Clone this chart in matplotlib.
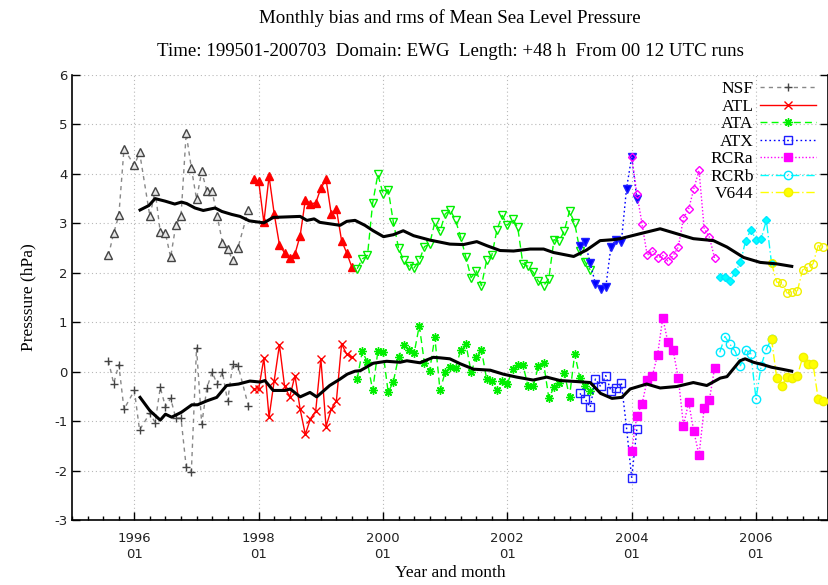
import numpy as np
import matplotlib
matplotlib.use("Agg")
import matplotlib.pyplot as plt
from matplotlib.lines import Line2D

plt.rcParams["axes.unicode_minus"] = False

# month index counted from 1995-01 (0 = Jan 1995)
nsf_months = [7, 8, 9, 10, 12, 13] + list(range(15, 33)) + [34]
nsf_rms = [2.35, 2.80, 3.16, 4.51, 4.17, 4.44, 3.14, 3.66, 2.82, 2.80, 2.31, 2.96, 3.14,
           4.82, 4.12, 3.49, 4.05, 3.65, 3.65, 3.15, 2.61, 2.48, 2.25, 2.51, 3.26]
nsf_bias = [0.22, -0.24, 0.14, -0.76, -0.38, -1.18, -0.84, -1.03, -0.32, -0.71, -0.54, -0.94, -0.94,
            -1.92, -2.02, 0.48, -1.06, -0.33, -0.01, -0.25, -0.01, -0.60, 0.16, 0.12, -0.69]

atl_start = 35
atl_rms = [3.90, 3.85, 3.02, 3.95, 3.19, 2.57, 2.40, 2.30, 2.38, 2.75, 3.47, 3.40, 3.41, 3.71,
           3.89, 3.19, 3.29, 2.65, 2.40, 2.11]
atl_bias = [-0.35, -0.35, 0.27, -0.92, -0.18, 0.54, -0.30, -0.51, -0.08, -0.76, -1.27, -0.95, -0.80,
            0.26, -1.11, -0.76, -0.59, 0.56, 0.35, 0.29]

ata_start = 55
ata_rms = [2.08, 2.28, 2.35, 3.41, 3.99, 3.60, 3.68, 3.02, 2.50, 2.25, 2.13, 2.10, 2.25, 2.53, 2.58,
           3.02, 2.84, 3.19, 3.27, 3.06, 2.72, 2.31, 1.90, 2.04, 1.74, 2.25, 2.35, 2.87, 3.16, 2.96,
           3.09, 2.92, 2.18, 2.13, 2.01, 1.83, 1.74, 1.88, 2.67, 2.64, 2.85, 3.25, 3.00, 2.45, 2.22, 2.06]
ata_bias = [-0.15, 0.41, 0.19, -0.38, 0.41, 0.39, -0.42, -0.20, 0.30, 0.53, 0.44, 0.37, 0.93, 0.17,
            0.02, 0.70, -0.38, -0.01, 0.09, 0.07, 0.44, 0.56, -0.01, 0.29, 0.44, -0.15, -0.18, -0.38,
            -0.18, -0.25, 0.05, 0.14, 0.14, -0.30, -0.30, 0.12, 0.17, -0.53, -0.32, -0.22, -0.03,
            -0.51, 0.36, -0.12, -0.30, -0.40]

atx_start = 98
atx_rms = [2.55, 2.62, 2.19, 1.78, 1.68, 1.71, 2.53, 2.67, 2.62, 3.70, 4.35, 3.50]
atx_bias = [-0.44, -0.55, -0.72, -0.15, -0.30, -0.08, -0.39, -0.34, -0.22, -1.13, -2.15, -1.16]

rcra_start = 108
rcra_rms = [4.35, 3.60, 2.99, 2.35, 2.45, 2.30, 2.35, 2.23, 2.35, 2.52, 3.11, 3.29, 3.70, 4.07,
            2.89, 2.72, 2.30]
rcra_bias = [-1.60, -0.89, -0.65, -0.17, -0.08, 0.34, 1.09, 0.59, 0.43, -0.13, -1.09, -0.62, -1.21,
             -1.69, -0.73, -0.57, 0.07]

rcrb_start = 125
rcrb_rms = [1.91, 1.91, 1.84, 2.01, 2.21, 2.65, 2.87, 2.67, 2.69, 3.06, 2.19]
rcrb_bias = [0.39, 0.71, 0.55, 0.41, 0.12, 0.44, 0.36, -0.55, 0.12, 0.46, 0.66]

v644_start = 135
v644_rms = [2.19, 1.81, 1.79, 1.59, 1.61, 1.64, 2.06, 2.11, 2.18, 2.55, 2.52]
v644_bias = [0.66, -0.13, -0.28, -0.10, -0.13, -0.08, 0.29, 0.16, 0.16, -0.55, -0.59]

# running means (black curves)
rms_mean_months = [13.1, 14.8, 16, 17.9, 19.8, 21.1, 22.1, 23.7, 25.3, 27.6, 28.9, 30.8, 32.4, 34.2,
                   37, 38.8, 44, 45.3, 46.7, 47.8, 51.7, 53, 54.6, 56.5, 58.1, 60.1, 62, 63.9, 65.9,
                   69.1, 71, 72.9, 75.5, 78.1, 80, 82.6, 85.2, 88.4, 91, 92.9, 96.8, 99.3, 101.9,
                   104.5, 105.8, 109.6, 113.5, 116.7, 119.9, 123.8, 126.4, 129.6, 132.8, 136, 138.9]
rms_mean = [3.27, 3.36, 3.50, 3.45, 3.39, 3.43, 3.40, 3.31, 3.26, 3.31, 3.24, 3.18, 3.14, 3.05,
            3.01, 3.12, 3.14, 3.06, 3.09, 3.02, 2.96, 3.04, 3.06, 2.96, 2.85, 2.73, 2.77, 2.85, 2.75,
            2.66, 2.62, 2.58, 2.57, 2.63, 2.55, 2.45, 2.44, 2.48, 2.48, 2.41, 2.33, 2.46, 2.65,
            2.67, 2.69, 2.79, 2.89, 2.79, 2.69, 2.65, 2.52, 2.31, 2.21, 2.18, 2.13]
bias_mean_months = [13.1, 15, 17, 18, 19.2, 21.1, 23.1, 24.2, 26, 27.9, 29.8, 32.1, 34.3, 36.3, 37.2,
                    38.8, 41.1, 42.1, 44, 45.9, 47.2, 49.7, 51.7, 53.1, 54.6, 55.6, 58.1, 60.7, 63.3,
                    64.6, 67.1, 69.7, 71, 72.9, 74.9, 77.5, 80.7, 83.2, 85.8, 89, 91.6, 94.2, 97.4,
                    100, 102, 104.2, 106.1, 107.7, 110.9, 113.5, 116.7, 119.9, 122.5, 125.1, 126.4,
                    128.9, 129.9, 131.5, 133.4, 135, 137, 138.9]
bias_mean = [-0.52, -0.79, -0.98, -0.86, -0.92, -0.82, -0.67, -0.67, -0.59, -0.52, -0.28, -0.25,
             -0.19, -0.21, -0.18, -0.38, -0.38, -0.35, -0.51, -0.42, -0.51, -0.28, -0.15, -0.05,
             0.01, 0.02, 0.17, 0.21, 0.19, 0.22, 0.18, 0.29, 0.28, 0.26, 0.16, 0.05, 0.03, -0.05,
             -0.11, -0.17, -0.11, -0.18, -0.20, -0.22, -0.44, -0.54, -0.52, -0.35, -0.25, -0.33,
             -0.30, -0.22, -0.28, -0.13, -0.10, 0.22, 0.26, 0.19, 0.14, 0.09, 0.05, 0.01]

years = ["1996", "1998", "2000", "2002", "2004", "2006"]

serif = "Liberation Serif"

fig = plt.figure(figsize=(8.29, 5.85), dpi=100)
ax = fig.add_axes([72.2 / 829, 1 - 520 / 585, (827.5 - 72.2) / 829, 445 / 585])

def months(start, vals):
    return np.arange(start, start + len(vals))

series = [
    # label, x, rms, bias, colour, linestyle, rms marker, rms fill, bias marker, bias fill, marker edge
    ("NSF", nsf_months, nsf_rms, nsf_bias, "#888888", (0, (3, 3)), "^", "#e6e6e6", "+", "none", "#444444"),
    ("ATL", months(atl_start, atl_rms), atl_rms, atl_bias, "#ff0000", "-", "^", "#ff0000", "x", "none", "#ff0000"),
    ("ATA", months(ata_start, ata_rms), ata_rms, ata_bias, "#00ff00", (0, (5, 3)), "v", "none", (8, 2, 0), "none", "#00ee00"),
    ("ATX", months(atx_start, atx_rms), atx_rms, atx_bias, "#0000ff", (0, (1.2, 2)), "v", "#0000ff", "s", "none", "#2020ff"),
    ("RCRa", months(rcra_start, rcra_rms), rcra_rms, rcra_bias, "#ff00ff", (0, (1, 1.5)), "D", "none", "s", "#ff00ff", "#ff00ff"),
    ("RCRb", months(rcrb_start, rcrb_rms), rcrb_rms, rcrb_bias, "#00ffff", (0, (6, 2, 1, 2)), "D", "#00ffff", "o", "none", "#00e8ff"),
    ("V644", months(v644_start, v644_rms), v644_rms, v644_bias, "#ffff00", (0, (6, 2, 1, 2)), "o", "none", "o", "#ffff00", "#f0f000"),
]

handles = []
for label, x, rms, bias, col, ls, rm, rfill, bm, bfill, mcol in series:
    rsize = 4.5 if rm == "D" else 5.5
    ax.plot(x, rms, color=col, ls=ls, lw=1.0, marker=rm, ms=rsize, mfc=rfill, mec=mcol, mew=1.0, zorder=3)
    ax.plot(x, bias, color=col, ls=ls, lw=1.0, marker=bm, ms=6, mfc=bfill, mec=mcol, mew=1.0, zorder=3)
    handles.append(Line2D([], [], color=col, ls=ls, lw=1.0, marker=bm, ms=6, mfc=bfill, mec=mcol, mew=1.0))

ax.plot(rms_mean_months, rms_mean, color="black", lw=2.2, zorder=4)
ax.plot(bias_mean_months, bias_mean, color="black", lw=2.2, zorder=4)

ax.set_xlim(0, 145.8)
ax.set_ylim(-3, 6)
ax.set_xticks([12 * (int(y) - 1995) for y in years])
ax.set_xticklabels([y + "\n01" for y in years])
ax.set_xticks(np.arange(0, 146, 3), minor=True)
ax.set_yticks(np.arange(-3, 7, 1))
ax.tick_params(axis="both", which="both", direction="in", labelsize=9.5, right=True, top=False,
               labelcolor="#222222")
ax.tick_params(axis="both", which="major", length=6, width=1)
ax.tick_params(axis="both", which="minor", length=3, width=1)
ax.tick_params(axis="x", pad=9)
ax.grid(True, which="major", color="#b8b8b8", ls=(0, (1, 2.5)), lw=0.8)
ax.spines["top"].set_visible(False)
for s in ["left", "right", "bottom"]:
    ax.spines[s].set_linewidth(1.2)

ax.set_xlabel("Year and month", family=serif, fontsize=12.5, labelpad=3)
ax.set_ylabel("Presssure (hPa)", family=serif, fontsize=12.5, labelpad=13)

fig.text(450 / 829, 1 - 18 / 585, "Monthly bias and rms of Mean Sea Level Pressure",
         ha="center", va="center", family=serif, fontsize=13.6)
fig.text(450 / 829, 1 - 52 / 585,
         "Time: 199501-200703  Domain: EWG  Length: +48 h  From 00 12 UTC runs",
         ha="center", va="center", family=serif, fontsize=13.6)

leg = ax.legend(handles, [s[0] for s in series], loc="upper right",
                bbox_to_anchor=(816 / 829, 1 - 81 / 585), bbox_transform=fig.transFigure,
                frameon=False, markerfirst=False, handlelength=3.2, handletextpad=0.4,
                labelspacing=0.08, borderpad=0, borderaxespad=0,
                prop={"family": serif, "size": 12.5})
for t in leg.get_texts():
    t.set_ha("right")

fig.savefig("out.png", dpi=100)
